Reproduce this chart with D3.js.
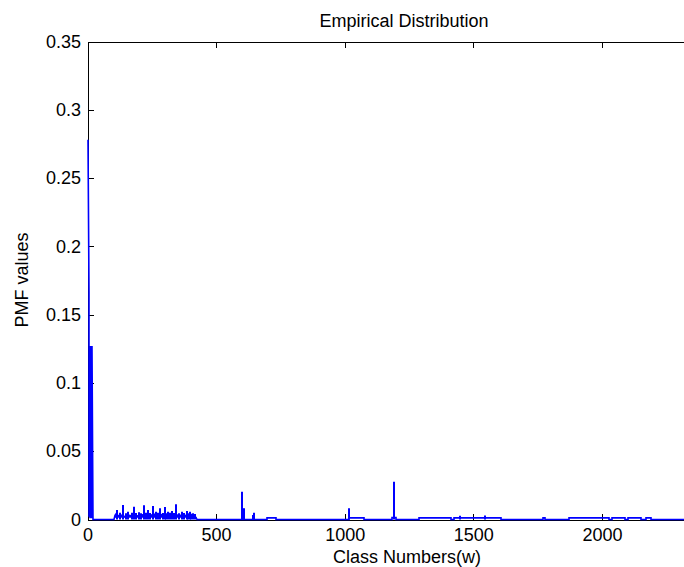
<!DOCTYPE html>
<html>
<head>
<meta charset="utf-8">
<script src="https://cdn.jsdelivr.net/npm/d3@7"></script>
<style>
  body { margin: 0; background: #fff; }
  text { font-family: "Liberation Sans", Arial, Helvetica, sans-serif; fill: #000; }
</style>
</head>
<body>
<div id="graph"></div>
<script>
// head of the distribution (classes 1..17)
const headClass = [1, 2, 3, 4, 5, 6, 7, 8, 9, 10, 11, 12, 13, 14, 15, 16, 17, 18];
const headPmf = [0.278, 0.167, 0.128, 0.002, 0.127, 0.001, 0.127, 0.003, 0.126, 0.001, 0.127, 0.002, 0.125, 0.001, 0.127, 0.002, 0.126, 0];

// dense block of small values between ~100 and ~420
const clusterClass = [103, 104, 110, 118, 126, 134, 142, 150, 160, 170, 182, 192, 204, 214, 224, 238, 248, 258, 270, 284, 294, 306, 318, 330, 340, 352, 364, 376, 388, 400, 412, 420, 422];
const clusterPmf = [0, 0.003, 0.004, 0.0025, 0.0035, 0.003, 0.002, 0.0035, 0.003, 0.0025, 0.004, 0.0025, 0.003, 0.0035, 0.004, 0.003, 0.0035, 0.004, 0.003, 0.0035, 0.004, 0.003, 0.0035, 0.0025, 0.003, 0.0035, 0.0025, 0.003, 0.0025, 0.003, 0.002, 0.0015, 0];

// isolated peaks
const spikeClass = [114, 125, 137, 147, 156, 170, 178, 188, 198, 208, 219, 226, 233, 243, 253, 265, 272, 279, 290, 299, 305, 312, 318, 325, 335, 344, 352, 364, 372, 383, 390, 396, 402, 409, 415,
  598, 601, 603, 605, 607, 641, 643, 646, 1013, 1189, 1445, 1543];
const spikePmf = [0.007, 0.005, 0.0106, 0.0045, 0.0057, 0.005, 0.0094, 0.0048, 0.0053, 0.0045, 0.0104, 0.005, 0.007, 0.0048, 0.0099, 0.0057, 0.005, 0.0082, 0.0048, 0.0092, 0.0045, 0.0057, 0.005, 0.0062, 0.0048, 0.0111, 0.0045, 0.0057, 0.0048, 0.0062, 0.0045, 0.0057, 0.0042, 0.0045, 0.004,
  0.0204, 0.0075, 0.0078, 0.0072, 0.0082, 0.0033, 0.003, 0.005, 0.0082, 0.0277, 0.0028, 0.003];

// runs of very small values
const runStart = [695, 1013, 1181, 1287, 1423, 1768, 1872, 2036, 2098, 2171];
const runEnd = [731, 1072, 1198, 1413, 1607, 1778, 2027, 2088, 2150, 2189];
const runPmf = [0.0012, 0.0012, 0.0014, 0.0012, 0.0012, 0.0012, 0.0012, 0.0012, 0.0012, 0.0012];

const lastClass = 2450;

const xTicks = [0, 500, 1000, 1500, 2000];
const yTicks = [0, 0.05, 0.1, 0.15, 0.2, 0.25, 0.3, 0.35];

var w = 684, h = 567;
var mLeft = 87.5, mRight = 730.5, mTop = 41.5, mBottom = 519.5;

var x = d3.scaleLinear().domain([0, 2500]).range([mLeft, mRight]);
var y = d3.scaleLinear().domain([0, 0.35]).range([mBottom, mTop]);

// snap data x to whole pixels so 2px lines stay solid blue
var px = c => Math.round(x(c) + 0.5);

var svg = d3.select('#graph')
  .append('svg')
  .attr('width', w)
  .attr('height', h)
  .style('display', 'block');

// axes
var fmt = d => String(+d.toFixed(2));

svg.append('g')
  .attr('transform', `translate(0,${mBottom})`)
  .call(d3.axisBottom(x).tickValues(xTicks).tickFormat(fmt).tickSizeInner(-6).tickSizeOuter(0).tickPadding(8.5));
svg.append('g')
  .attr('transform', `translate(0,${mTop})`)
  .call(d3.axisTop(x).tickValues(xTicks).tickFormat('').tickSizeInner(-6).tickSizeOuter(0));
svg.append('g')
  .attr('transform', `translate(${mLeft},0)`)
  .call(d3.axisLeft(y).tickValues(yTicks).tickFormat(fmt).tickSizeInner(-6).tickSizeOuter(0).tickPadding(6.5));
svg.append('g')
  .attr('transform', `translate(${mRight},0)`)
  .call(d3.axisRight(y).tickValues(yTicks).tickFormat('').tickSizeInner(-6).tickSizeOuter(0));

svg.selectAll('.domain, .tick line').attr('stroke', '#000').attr('shape-rendering', 'crispEdges');
svg.selectAll('.tick text').attr('font-size', 18).attr('fill', '#000')
  .style('font-family', '"Liberation Sans", Arial, sans-serif');

// build the main profile of the series
let profile = headClass.map((c, i) => [c, headPmf[i]]);
profile.push([102, 0]);
clusterClass.forEach((c, i) => profile.push([c, clusterPmf[i]]));
runStart.forEach((s, i) => {
  profile.push([s, 0], [s, runPmf[i]], [runEnd[i], runPmf[i]], [runEnd[i], 0]);
});
profile.push([lastClass, 0]);
profile.sort((a, b) => a[0] - b[0]);

var line = d3.line().x(d => px(d[0])).y(d => y(d[1]));

// filled block under the cluster (sits just above the axis)
var area = d3.area()
  .x(d => px(d[0]))
  .y0(y(0.0012))
  .y1(d => y(Math.max(d[1], 0.0012)));

svg.append('path')
  .datum(clusterClass.map((c, i) => [c, clusterPmf[i]]))
  .attr('d', area)
  .attr('fill', '#0000ff');

svg.append('path')
  .datum(profile)
  .attr('d', line)
  .attr('fill', 'none')
  .attr('stroke', '#0000ff')
  .attr('stroke-width', 1.6);

svg.append('g').selectAll('path')
  .data(spikeClass.map((c, i) => [c, spikePmf[i]]))
  .enter()
  .append('path')
  .attr('d', d => line([[d[0], 0], d]))
  .attr('fill', 'none')
  .attr('stroke', '#0000ff')
  .attr('stroke-width', 2);

// titles
svg.append('text')
  .attr('x', 404).attr('y', 27)
  .attr('text-anchor', 'middle')
  .attr('font-size', 18)
  .text('Empirical Distribution');

svg.append('text')
  .attr('x', 407).attr('y', 563)
  .attr('text-anchor', 'middle')
  .attr('font-size', 18)
  .text('Class Numbers(w)');

svg.append('text')
  .attr('transform', 'translate(28,280) rotate(-90)')
  .attr('text-anchor', 'middle')
  .attr('font-size', 18)
  .text('PMF values');
</script>
</body>
</html>
